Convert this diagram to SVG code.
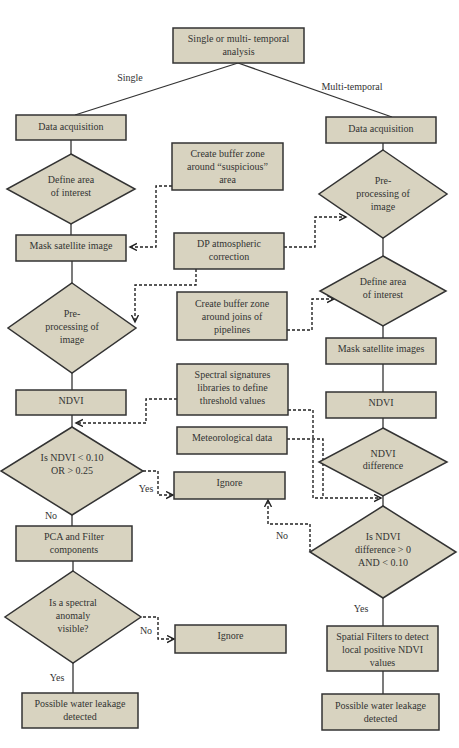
<svg xmlns="http://www.w3.org/2000/svg" width="459" height="748" viewBox="0 0 459 748">
<defs>
<style>
.n rect,.n polygon{fill:#d8d3c0;stroke:#333;stroke-width:1.5}
text{font-family:"Liberation Serif","Times New Roman",serif;font-size:10px;fill:#333;text-anchor:middle}
.s{fill:none;stroke:#333;stroke-width:1.3}
.d{fill:none;stroke:#222;stroke-width:1.4;stroke-dasharray:3 2;marker-end:url(#a)}
</style>
<marker id="a" markerUnits="userSpaceOnUse" markerWidth="10" markerHeight="10" refX="7" refY="4" orient="auto">
<path d="M0,0.5 L7,4 L0,7.5" fill="none" stroke="#222" stroke-width="1.4"/>
</marker>
</defs>
<rect width="459" height="748" fill="#fff"/>
<g id="connectors">
<line class="s" x1="238" y1="63" x2="75" y2="115"/>
<line class="s" x1="238" y1="63" x2="392" y2="117"/>
<line class="s" x1="71" y1="140" x2="71" y2="154"/>
<line class="s" x1="71" y1="224" x2="71" y2="235"/>
<line class="s" x1="72" y1="261" x2="72" y2="283"/>
<line class="s" x1="72" y1="373" x2="72" y2="390"/>
<line class="s" x1="72" y1="415" x2="72" y2="427"/>
<line class="s" x1="72" y1="515" x2="72" y2="526"/>
<line class="s" x1="73" y1="561" x2="73" y2="571"/>
<line class="s" x1="73" y1="663" x2="73" y2="693"/>
<line class="s" x1="383" y1="143" x2="383" y2="150"/>
<line class="s" x1="383" y1="238" x2="383" y2="256"/>
<line class="s" x1="383" y1="326" x2="383" y2="338"/>
<line class="s" x1="383" y1="364" x2="383" y2="392"/>
<line class="s" x1="383" y1="418" x2="383" y2="428"/>
<line class="s" x1="383" y1="496" x2="383" y2="506"/>
<line class="s" x1="383" y1="598" x2="383" y2="626"/>
<line class="s" x1="383" y1="671" x2="383" y2="694"/>
<path class="d" d="M172,186 H156 V247 H130"/>
<path class="d" d="M284,247 H315 V217 H346"/>
<path class="d" d="M196,269 V285 H135 V322"/>
<path class="d" d="M287,330 H312 V299 H334"/>
<path class="d" d="M177,399 H146 V423 H76"/>
<path class="d" d="M288,410 H313 V498 H381"/>
<path class="d" d="M287,439 H323 V498" style="marker-end:none"/>
<path class="d" d="M143,471 H158 V495 H173"/>
<path class="d" d="M310,552 V524 H268 V500"/>
<path class="d" d="M143,617 H158 V639 H174"/>
</g>
<g id="labels">
<text x="130" y="81">Single</text>
<text x="352" y="90">Multi-temporal</text>
<text x="146" y="492">Yes</text>
<text x="51" y="519">No</text>
<text x="146" y="634">No</text>
<text x="57" y="681">Yes</text>
<text x="282" y="539">No</text>
<text x="361" y="612">Yes</text>
</g>
<g id="n-top" class="n"><rect x="173" y="28" width="131" height="35"/><text x="238.5" y="42">Single or multi- temporal</text><text x="238.5" y="55">analysis</text></g>
<g id="n-l-acq" class="n"><rect x="16" y="115" width="110" height="25"/><text x="71" y="130">Data acquisition</text></g>
<g id="n-r-acq" class="n"><rect x="326" y="117" width="110" height="26"/><text x="381" y="132">Data acquisition</text></g>
<g id="n-buffer1" class="n"><rect x="172" y="143" width="111" height="47"/><text x="227.5" y="157">Create buffer zone</text><text x="227.5" y="170">around “suspicious”</text><text x="227.5" y="183">area</text></g>
<g id="n-l-define" class="n"><polygon points="71,154 135,189 71,224 7,189"/><text x="71" y="183">Define area</text><text x="71" y="196">of interest</text></g>
<g id="n-r-pre" class="n"><polygon points="383,150 447,194 383,238 319,194"/><text x="383" y="184">Pre-</text><text x="383" y="197">processing of</text><text x="383" y="210">image</text></g>
<g id="n-l-mask" class="n"><rect x="16" y="235" width="110" height="26"/><text x="71" y="249">Mask satellite image</text></g>
<g id="n-dp" class="n"><rect x="174" y="233" width="110" height="36"/><text x="229" y="247">DP atmospheric</text><text x="229" y="260">correction</text></g>
<g id="n-r-define" class="n"><polygon points="383,256 446,291 383,326 320,291"/><text x="383" y="285">Define area</text><text x="383" y="298">of interest</text></g>
<g id="n-buffer2" class="n"><rect x="177" y="292" width="110" height="48"/><text x="232" y="307">Create buffer zone</text><text x="232" y="320">around joins of</text><text x="232" y="333">pipelines</text></g>
<g id="n-l-pre" class="n"><polygon points="72,283 136,328 72,373 8,328"/><text x="72" y="317">Pre-</text><text x="72" y="330">processing of</text><text x="72" y="343">image</text></g>
<g id="n-r-mask" class="n"><rect x="326" y="338" width="110" height="26"/><text x="381" y="352">Mask satellite images</text></g>
<g id="n-l-ndvi" class="n"><rect x="16" y="390" width="110" height="25"/><text x="71" y="404">NDVI</text></g>
<g id="n-spectral" class="n"><rect x="177" y="364" width="111" height="51"/><text x="232.5" y="378">Spectral signatures</text><text x="232.5" y="391">libraries to define</text><text x="232.5" y="404">threshold values</text></g>
<g id="n-meteo" class="n"><rect x="177" y="427" width="110" height="27"/><text x="232" y="441">Meteorological data</text></g>
<g id="n-r-ndvi" class="n"><rect x="326" y="392" width="110" height="26"/><text x="381" y="406">NDVI</text></g>
<g id="n-ndvi-diff" class="n"><polygon points="383,428 447,462 383,496 319,462"/><text x="383" y="457">NDVI</text><text x="383" y="469">difference</text></g>
<g id="n-l-is" class="n"><polygon points="72,427 143,471 72,515 1,471"/><text x="72" y="461">Is NDVI &lt; 0.10</text><text x="72" y="474">OR &gt; 0.25</text></g>
<g id="n-ignore1" class="n"><rect x="174" y="472" width="111" height="27"/><text x="229.5" y="486">Ignore</text></g>
<g id="n-pca" class="n"><rect x="16" y="526" width="116" height="35"/><text x="74" y="540">PCA and Filter</text><text x="74" y="553">components</text></g>
<g id="n-anomaly" class="n"><polygon points="73,571 141,617 73,663 5,617"/><text x="73" y="606">Is a spectral</text><text x="73" y="619">anomaly</text><text x="73" y="632">visible?</text></g>
<g id="n-ignore2" class="n"><rect x="175" y="625" width="111" height="28"/><text x="230.5" y="639">Ignore</text></g>
<g id="n-l-leak" class="n"><rect x="22" y="693" width="116" height="35"/><text x="80" y="707">Possible water leakage</text><text x="80" y="720">detected</text></g>
<g id="n-r-is" class="n"><polygon points="383,506 456,552 383,598 310,552"/><text x="383" y="540">Is NDVI</text><text x="383" y="553">difference &gt; 0</text><text x="383" y="566">AND &lt; 0.10</text></g>
<g id="n-spatial" class="n"><rect x="327" y="626" width="111" height="45"/><text x="382.5" y="640">Spatial Filters to detect</text><text x="382.5" y="653">local positive NDVI</text><text x="382.5" y="666">values</text></g>
<g id="n-r-leak" class="n"><rect x="322" y="694" width="117" height="36"/><text x="380.5" y="709">Possible water leakage</text><text x="380.5" y="722">detected</text></g>
</svg>
